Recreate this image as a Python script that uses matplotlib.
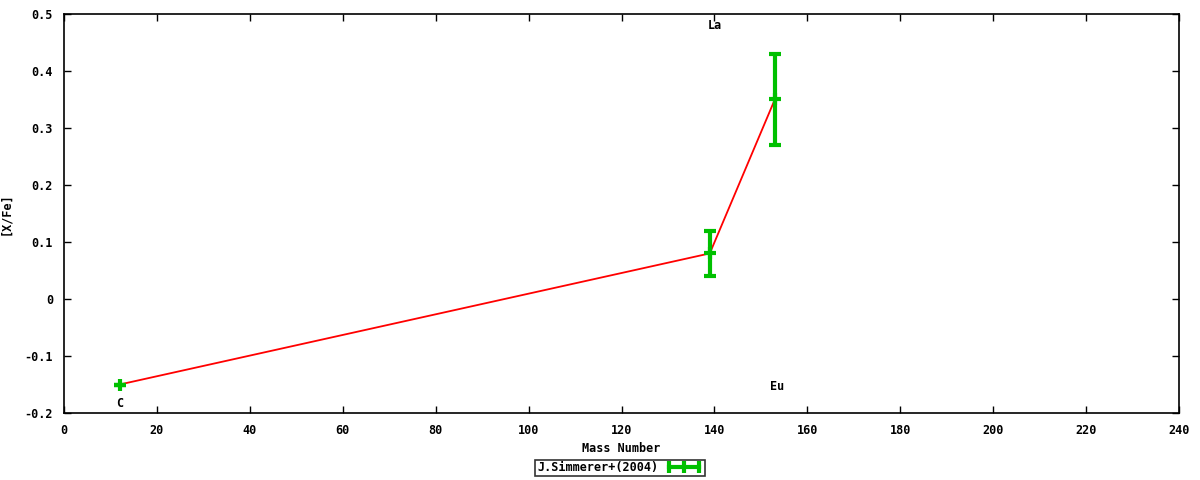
import matplotlib
matplotlib.use('Agg')
import matplotlib.pyplot as plt
from matplotlib.lines import Line2D
import numpy as np

# abundance data
elements = ['C', 'La', 'Eu']
mass = [12, 139, 153]
xfe = [-0.15, 0.08, 0.35]
xfe_err = [0.0, 0.04, 0.08]

# element labels (x, y)
label_x = [12, 140, 153.5]
label_y = [-0.183, 0.479, -0.154]

xticks = np.arange(0, 241, 20)
yticks = [-0.2, -0.1, 0, 0.1, 0.2, 0.3, 0.4, 0.5]
ytick_labels = ['-0.2', '-0.1', '0', '0.1', '0.2', '0.3', '0.4', '0.5']

green = '#00c000'
fs = 8.5

plt.rcParams['font.family'] = ['DejaVu Sans Mono']
plt.rcParams['font.weight'] = 'bold'
plt.rcParams['font.size'] = fs

fig = plt.figure(figsize=(12, 4.8), dpi=100)
ax = fig.add_axes([64 / 1200, 67 / 480, 1115 / 1200, 399 / 480])

ax.plot(mass, xfe, color='#ff0000', lw=1.3, zorder=2)
ax.errorbar(mass, xfe, yerr=xfe_err, fmt='none', ecolor=green,
            elinewidth=3, capsize=4, capthick=3, zorder=3)
ax.plot(mass, xfe, ls='none', marker='+', ms=9, mew=3, color=green, zorder=3)

for name, lx, ly in zip(elements, label_x, label_y):
    ax.text(lx, ly, name, ha='center', va='center', fontsize=fs, fontweight='bold')

ax.set_xlim(0, 240)
ax.set_ylim(-0.2, 0.5)
ax.set_xticks(xticks)
ax.set_yticks(yticks)
ax.set_yticklabels(ytick_labels)
ax.tick_params(direction='in', length=5, width=1, top=True, right=True,
               labelsize=fs, pad=8)
for s in ax.spines.values():
    s.set_linewidth(1.2)

ax.set_xlabel('Mass Number', fontsize=fs, fontweight='bold')
ax.set_ylabel('[X/Fe]', fontsize=fs, fontweight='bold')
ax.xaxis.set_label_coords(0.5, -29 / 399)
ax.yaxis.set_label_coords(-52 / 1115, 0.5)

proxy = Line2D([], [], color=green, lw=3, marker='|', ms=9, mew=3)
leg = fig.legend([proxy], ['J.Simmerer+(2004)'], loc='center',
                 bbox_to_anchor=(620 / 1200, 12 / 480), frameon=True,
                 fancybox=False, edgecolor='black', handlelength=3.2,
                 borderpad=0.15, handletextpad=0.6, borderaxespad=0,
                 fontsize=fs, markerfirst=False, numpoints=3)
leg.get_frame().set_linewidth(1.2)

fig.savefig('out.png', dpi=100)
